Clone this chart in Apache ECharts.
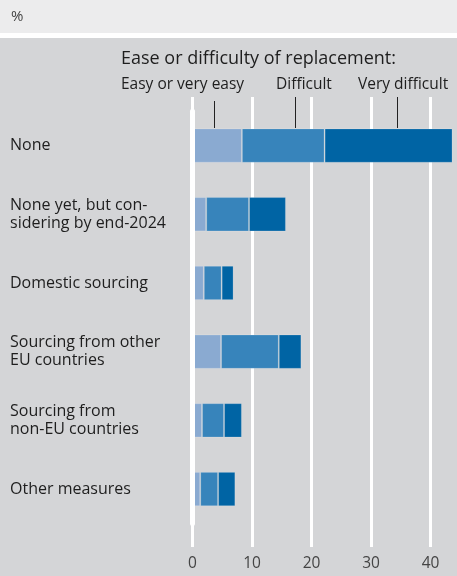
<!DOCTYPE html>
<html>
<head>
<meta charset="utf-8">
<script src="https://cdn.jsdelivr.net/npm/echarts@6/dist/echarts.min.js"></script>
<style>
html,body{margin:0;padding:0;background:#d4d5d7;}
#chart{width:457px;height:576px;}
</style>
</head>
<body>
<div id="chart"></div>
<script>
var categories = ['None', 'None yet, but con-\nsidering by end-2024', 'Domestic sourcing', 'Sourcing from other\nEU countries', 'Sourcing from\nnon-EU countries', 'Other measures'];
var easy = [8.3, 2.3, 1.9, 4.8, 1.6, 1.3];
var difficult = [13.9, 7.2, 3.0, 9.7, 3.7, 3.0];
var veryDifficult = [21.5, 6.2, 2.0, 3.8, 3.0, 2.9];
var seriesNames = ['Easy or very easy', 'Difficult', 'Very difficult'];
var tickValues = [0, 10, 20, 30, 40];
var gridValues = [20, 40];
var unitLabel = '%';
var legendTitle = 'Ease or difficulty of replacement:';

var FONT = '"Open Sans", "Noto Sans", sans-serif';
var chart = echarts.init(document.getElementById('chart'), null, {renderer: 'canvas'});

var gridLeft = 192.5, gridWidth = 297.5, xMax = 50;
function barSeries(name, data, color) {
  return {
    name: name, type: 'bar', stack: 'total', data: data,
    xAxisIndex: 0, yAxisIndex: 0, barWidth: '50%',
    itemStyle: {color: color, borderColor: 'rgba(255,255,255,0.18)', borderWidth: 1},
    emphasis: {disabled: true}, z: 2
  };
}

chart.setOption({
  backgroundColor: '#d4d5d7',
  animation: false,
  grid: [
    {left: gridLeft, width: gridWidth, top: 111.2, height: 412.2, outerBoundsMode: 'none', containLabel: false},
    {left: gridLeft, width: gridWidth, top: 97, height: 450, outerBoundsMode: 'none', containLabel: false},
    {left: gridLeft, width: gridWidth, top: 400, bottom: 43, outerBoundsMode: 'none', containLabel: false}
  ],
  xAxis: [
    {gridIndex: 0, type: 'value', min: 0, max: xMax, interval: 10, show: false, splitLine: {show: false}},
    {gridIndex: 1, type: 'value', min: 0, max: xMax, interval: 10,
      axisLine: {show: false}, axisTick: {show: false}, axisLabel: {show: false},
      splitLine: {show: true, customValues: gridValues, lineStyle: {color: '#ffffff', width: 3}}, z: 0},
    {gridIndex: 2, type: 'value', min: 0, max: xMax, interval: 10, position: 'bottom',
      axisLine: {show: false},
      axisTick: {show: true, customValues: tickValues, length: 14, lineStyle: {color: '#ffffff', width: 3}},
      axisLabel: {show: true, customValues: tickValues, margin: 23, color: '#444', fontSize: 15.5, fontFamily: FONT},
      splitLine: {show: false}}
  ],
  yAxis: [
    {gridIndex: 0, type: 'category', data: categories, inverse: true,
      axisLine: {show: true, lineStyle: {color: '#ffffff', width: 5}},
      axisTick: {show: false},
      axisLabel: {align: 'left', margin: 182.5, color: '#1e1e1e', fontSize: 16, lineHeight: 18, fontFamily: FONT, padding: [4, 0, 0, 0]},
      z: 5},
    {gridIndex: 1, type: 'value', show: false},
    {gridIndex: 2, type: 'value', show: false}
  ],
  series: [
    barSeries(seriesNames[0], easy, '#8aaad1'),
    barSeries(seriesNames[1], difficult, '#3784bb'),
    barSeries(seriesNames[2], veryDifficult, '#0064a4')
  ],
  graphic: [
    {type: 'rect', shape: {x: 0, y: 0, width: 457, height: 33}, style: {fill: '#ececed'}, silent: true},
    {type: 'rect', shape: {x: 0, y: 33, width: 457, height: 5}, style: {fill: '#ffffff'}, silent: true},
    {type: 'text', x: 11, y: 17, style: {text: unitLabel, fill: '#444', font: '15px ' + FONT, textVerticalAlign: 'middle'}},
    {type: 'text', x: 121, y: 59, style: {text: legendTitle, fill: '#1e1e1e', font: '18px ' + FONT, textVerticalAlign: 'middle'}},
    {type: 'text', x: 121, y: 85, style: {text: seriesNames[0], fill: '#1e1e1e', font: '15.5px ' + FONT, textVerticalAlign: 'middle'}},
    {type: 'text', x: 276, y: 85, style: {text: seriesNames[1], fill: '#1e1e1e', font: '15.5px ' + FONT, textVerticalAlign: 'middle'}},
    {type: 'text', x: 358, y: 85, style: {text: seriesNames[2], fill: '#1e1e1e', font: '15.5px ' + FONT, textVerticalAlign: 'middle'}},
    {type: 'line', shape: {x1: 214.5, y1: 101, x2: 214.5, y2: 128}, style: {stroke: '#222', lineWidth: 1}, z: 10},
    {type: 'line', shape: {x1: 295.5, y1: 97, x2: 295.5, y2: 128}, style: {stroke: '#222', lineWidth: 1}, z: 10},
    {type: 'line', shape: {x1: 397.5, y1: 97, x2: 397.5, y2: 128}, style: {stroke: '#222', lineWidth: 1}, z: 10}
  ]
});
</script>
</body>
</html>
